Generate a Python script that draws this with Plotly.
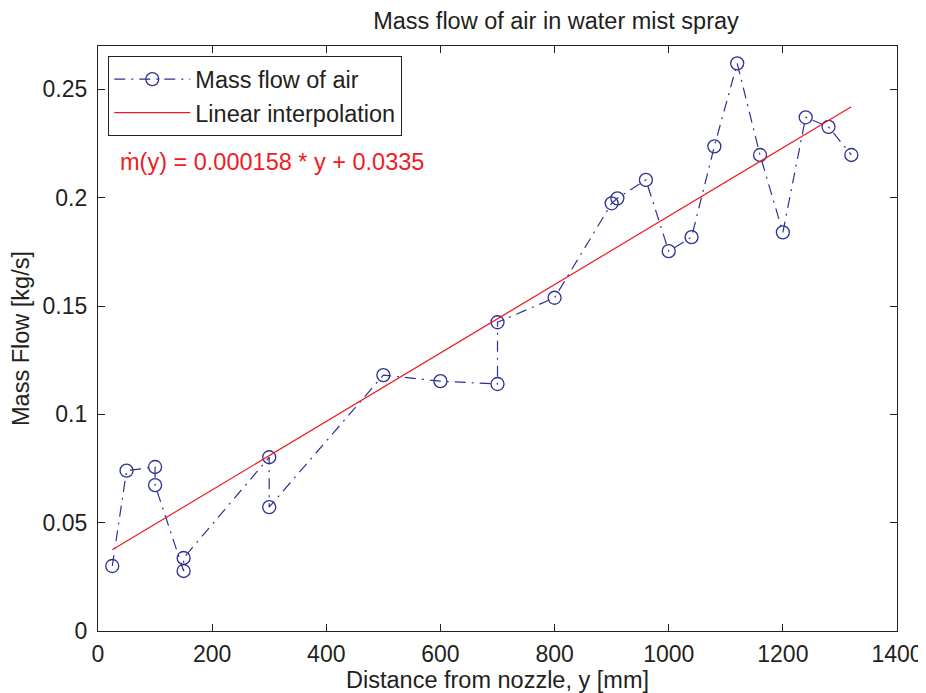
import plotly.graph_objects as go

# Measured data (distance from nozzle [mm], mass flow [kg/s]) in plotting order
dist_mm = [25, 50, 100, 100, 150, 150, 300, 300, 500, 600, 700, 700, 800,
           900, 910, 960, 1000, 1040, 1080, 1120, 1160, 1200, 1240, 1280, 1320]
mass_flow = [0.0300, 0.0740, 0.0757, 0.0673, 0.0277, 0.0337, 0.0802, 0.0572,
             0.1181, 0.1153, 0.1140, 0.1425, 0.1538, 0.1974, 0.1997, 0.2082,
             0.1753, 0.1818, 0.2237, 0.2620, 0.2197, 0.1840, 0.2371, 0.2327, 0.2197]

# Linear interpolation line end points
fit_x = [25, 1320]
fit_y = [0.0375, 0.2420]

x_ticks = [0, 200, 400, 600, 800, 1000, 1200, 1400]
y_ticks = [0, 0.05, 0.1, 0.15, 0.2, 0.25]
y_ticktext = ["0", "0.05", "0.1", "0.15", "0.2", "0.25"]

FONT = "Liberation Sans, Arial, Helvetica, sans-serif"
TXT = "#231f20"
BLUE = "#2e3192"
RED = "#ed1c24"
FS = 23.5

# page body has an 8px margin: figure is sized to fill the rest of the window
W, H = 918, 685

fig = go.Figure()
fig.add_trace(go.Scatter(
    x=dist_mm, y=mass_flow, mode="lines+markers", name="Mass flow of air",
    line=dict(color=BLUE, width=1.2, dash="11px,6px,2px,6px"),
    marker=dict(symbol="circle-open", size=13, color=BLUE, line=dict(width=1.3, color=BLUE)),
))
fig.add_trace(go.Scatter(
    x=fit_x, y=fit_y, mode="lines", name="Linear interpolation",
    line=dict(color=RED, width=1.2),
))

fig.add_annotation(
    x=35, y=0.2163, xref="x", yref="y", xanchor="left", yanchor="middle",
    text="ṁ(y) = 0.000158 * y + 0.0335", showarrow=False,
    font=dict(family=FONT, size=FS, color=RED),
)

axis_common = dict(
    showline=True, linecolor=TXT, linewidth=1.3, mirror="ticks",
    ticks="inside", ticklen=7, tickcolor=TXT, tickwidth=1,
    showgrid=False, zeroline=False, automargin=False,
    tickfont=dict(family=FONT, size=23, color=TXT),
)

fig.update_layout(
    width=W, height=H,
    margin=dict(l=90, r=29, t=38, b=62),
    paper_bgcolor="white", plot_bgcolor="white",
    font=dict(family=FONT, size=FS, color=TXT),
    title=dict(text="Mass flow of air in water mist spray", x=548/W, xanchor="center",
               y=1 - 13/H, yanchor="middle", xref="container", yref="container",
               font=dict(family=FONT, size=FS, color=TXT)),
    xaxis=dict(range=[0, 1400], tickvals=x_ticks, ticklabelstandoff=2,
               title=dict(text="Distance from nozzle, y [mm]", standoff=12,
                          font=dict(family=FONT, size=FS, color=TXT)),
               **axis_common),
    yaxis=dict(range=[0, 0.27], tickvals=y_ticks, ticktext=y_ticktext, ticklabelstandoff=5,
               title=dict(text="Mass Flow [kg/s]", standoff=6,
                          font=dict(family=FONT, size=FS, color=TXT)),
               **axis_common),
    legend=dict(x=10/799, y=1 - 10/585, xanchor="left", yanchor="top",
                bgcolor="white", bordercolor=TXT, borderwidth=1.3,
                font=dict(family=FONT, size=FS, color=TXT),
                itemwidth=76, tracegroupgap=0),
    showlegend=True,
)

fig.write_html("out.html")
